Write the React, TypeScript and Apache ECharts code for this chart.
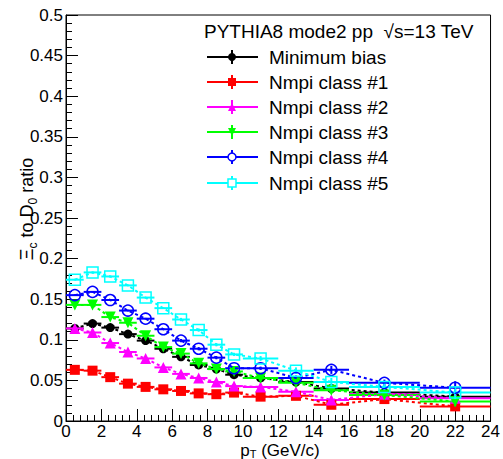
import React, { useEffect, useRef } from "react";
import * as echarts from "echarts";

// bin centres and edges (pT, GeV/c)
const xCenters = [0.5, 1.5, 2.5, 3.5, 4.5, 5.5, 6.5, 7.5, 8.5, 9.5, 11, 13, 15, 18, 22];
const xLow = [0, 1, 2, 3, 4, 5, 6, 7, 8, 9, 10, 12, 14, 16, 20];
const xHigh = [1, 2, 3, 4, 5, 6, 7, 8, 9, 10, 12, 14, 16, 20, 24];

const minBias = [0.114, 0.12, 0.115, 0.107, 0.099, 0.089, 0.079, 0.069, 0.064, 0.057, 0.053, 0.048, 0.04, 0.035, 0.03];
const class1 = [0.063, 0.062, 0.054, 0.046, 0.042, 0.039, 0.037, 0.034, 0.033, 0.035, 0.03, 0.031, 0.02, 0.027, 0.018];
const class2 = [0.114, 0.109, 0.096, 0.085, 0.077, 0.066, 0.058, 0.053, 0.048, 0.043, 0.042, 0.036, 0.026, 0.033, 0.028];
const class3 = [0.143, 0.143, 0.128, 0.121, 0.105, 0.091, 0.083, 0.071, 0.064, 0.061, 0.053, 0.047, 0.038, 0.032, 0.024];
const class4 = [0.155, 0.159, 0.149, 0.136, 0.126, 0.113, 0.099, 0.089, 0.078, 0.065, 0.065, 0.053, 0.063, 0.047, 0.041];
const class5 = [0.174, 0.183, 0.178, 0.167, 0.152, 0.139, 0.125, 0.112, 0.094, 0.082, 0.077, 0.062, 0.048, 0.042, 0.035];

// vertical (statistical) half-errors
const errMinBias = [0.001, 0.001, 0.001, 0.001, 0.001, 0.001, 0.001, 0.001, 0.001, 0.001, 0.001, 0.002, 0.003, 0.002, 0.004];
const errClass1 = [0.001, 0.001, 0.001, 0.001, 0.001, 0.001, 0.001, 0.001, 0.002, 0.002, 0.002, 0.003, 0.003, 0.003, 0.004];
const errClass2 = [0.001, 0.001, 0.001, 0.001, 0.001, 0.001, 0.001, 0.001, 0.002, 0.002, 0.002, 0.003, 0.004, 0.003, 0.005];
const errClass3 = [0.001, 0.001, 0.001, 0.001, 0.001, 0.001, 0.001, 0.001, 0.002, 0.002, 0.002, 0.003, 0.004, 0.003, 0.006];
const errClass4 = [0.001, 0.001, 0.001, 0.001, 0.001, 0.001, 0.002, 0.002, 0.002, 0.002, 0.002, 0.003, 0.005, 0.004, 0.008];
const errClass5 = [0.001, 0.001, 0.001, 0.001, 0.001, 0.001, 0.002, 0.002, 0.002, 0.002, 0.003, 0.004, 0.005, 0.004, 0.008];

const legendTitle = "PYTHIA8 mode2 pp  √s=13 TeV";
const seriesNames = ["Minimum bias", "Nmpi class #1", "Nmpi class #2", "Nmpi class #3", "Nmpi class #4", "Nmpi class #5"];
const seriesValues = [minBias, class1, class2, class3, class4, class5];
const seriesErrors = [errMinBias, errClass1, errClass2, errClass3, errClass4, errClass5];
const seriesColors = ["#000000", "#ff0000", "#ff00ff", "#00ff00", "#0000ff", "#00ffff"];

// axis titles as [text, isSubscript] pieces
const yTitleParts: [string, boolean][] = [["Ξ", false], ["c", true], [" to D", false], ["0", true], [" ratio", false]];
const xTitleParts: [string, boolean][] = [["p", false], ["T", true], [" (GeV/c)", false]];

const FONT = "'Liberation Sans', Arial, Helvetica, sans-serif";

const TRI_DOWN = "path://M0,0 L10,0 L5,9 Z";
const TRI_UP = "path://M5,0 L10,9 L0,9 Z";
const symbolDefs = [
  { symbol: "circle", size: 9, hollow: false },
  { symbol: "rect", size: 10, hollow: false },
  { symbol: TRI_UP, size: 11, hollow: false },
  { symbol: TRI_DOWN, size: 11, hollow: false },
  { symbol: "circle", size: 11, hollow: true },
  { symbol: "rect", size: 11, hollow: true },
];

function legendMarker(i: number, cx: number, cy: number, color: string) {
  const s = 4;
  switch (i) {
    case 0:
      return { type: "circle", shape: { cx, cy, r: s }, style: { fill: color } };
    case 1:
      return { type: "rect", shape: { x: cx - s, y: cy - s, width: 2 * s, height: 2 * s }, style: { fill: color } };
    case 2:
      return { type: "polygon", shape: { points: [[cx, cy - s], [cx + s, cy + s], [cx - s, cy + s]] }, style: { fill: color } };
    case 3:
      return { type: "polygon", shape: { points: [[cx - s, cy - s], [cx + s, cy - s], [cx, cy + s]] }, style: { fill: color } };
    case 4:
      return { type: "circle", shape: { cx, cy, r: s }, style: { fill: "#fff", stroke: color, lineWidth: 1.5 } };
    default:
      return { type: "rect", shape: { x: cx - s, y: cy - s, width: 2 * s, height: 2 * s }, style: { fill: "#fff", stroke: color, lineWidth: 1.5 } };
  }
}

function buildTitle(parts: [string, boolean][], x: number, y: number, rotation: number, mainSize: number, subSize: number, subShift: number) {
  const canvas = document.createElement("canvas");
  const ctx = canvas.getContext("2d") as CanvasRenderingContext2D;
  const widths = parts.map(([t, sub]) => {
    ctx.font = `${sub ? subSize : mainSize}px ${FONT}`;
    return ctx.measureText(t).width;
  });
  const total = widths.reduce((a, b) => a + b, 0);
  let cur = -total / 2;
  const children: any[] = parts.map(([t, sub], k) => {
    const el = {
      type: "text",
      x: cur,
      y: sub ? subShift : 0,
      style: {
        text: t,
        font: `${sub ? subSize : mainSize}px ${FONT}`,
        fill: "#000",
        align: "left",
        verticalAlign: "middle",
      },
    };
    cur += widths[k];
    return el;
  });
  return { type: "group", x, y, rotation, children };
}

export default function App() {
  const ref = useRef<HTMLDivElement>(null);

  useEffect(() => {
    if (!ref.current) return;
    const chart = echarts.init(ref.current, undefined, { renderer: "svg" });

    const series: any[] = [];
    seriesValues.forEach((vals, si) => {
      const color = seriesColors[si];
      const errs = seriesErrors[si];
      series.push({
        type: "custom",
        name: seriesNames[si] + " err",
        silent: true,
        z: 2 + si,
        encode: { x: [0, 1], y: 2 },
        data: vals.map((v, k) => [xLow[k], xHigh[k], v, xCenters[k], errs[k]]),
        renderItem: (params: any, api: any) => {
          const y = api.value(2);
          const xc = api.value(3);
          const e = api.value(4);
          const p1 = api.coord([api.value(0), y]);
          const p2 = api.coord([api.value(1), y]);
          const pt = api.coord([xc, y + e]);
          const pb = api.coord([xc, y - e]);
          return {
            type: "group",
            children: [
              { type: "line", shape: { x1: p1[0], y1: p1[1], x2: p2[0], y2: p2[1] }, style: { stroke: color, lineWidth: 2 } },
              { type: "line", shape: { x1: pt[0], y1: pt[1], x2: pb[0], y2: pb[1] }, style: { stroke: color, lineWidth: 2 } },
            ],
          };
        },
      });
      const sd = symbolDefs[si];
      series.push({
        type: "line",
        name: seriesNames[si],
        z: 3 + si,
        data: vals.map((v, k) => [xCenters[k], v]),
        symbol: sd.symbol,
        symbolSize: sd.size,
        showAllSymbol: true,
        lineStyle: { color, width: 2, type: [3, 3] },
        itemStyle: sd.hollow
          ? { color: "rgba(255,255,255,0)", borderColor: color, borderWidth: 1.5 }
          : { color, borderWidth: 0 },
        emphasis: { disabled: true },
      });
    });

    const legendRowY = [57, 82, 107, 132, 157, 183];
    const graphics: any[] = [
      {
        type: "text",
        left: 204,
        top: 22,
        style: { text: legendTitle, font: `19px ${FONT}`, fill: "#000" },
      },
    ];
    seriesNames.forEach((name, i) => {
      const y = legendRowY[i];
      const c = seriesColors[i];
      graphics.push({ type: "line", shape: { x1: 207, y1: y, x2: 258, y2: y }, style: { stroke: c, lineWidth: 2 } });
      graphics.push({ type: "line", shape: { x1: 232, y1: y - 7, x2: 232, y2: y + 7 }, style: { stroke: c, lineWidth: 2 } });
      graphics.push(legendMarker(i, 232, y, c));
      graphics.push({
        type: "text",
        x: 269,
        y,
        style: { text: name, font: `19px ${FONT}`, fill: "#000", verticalAlign: "middle" },
      });
    });

    // axis titles (centre of main text line)
    graphics.push(buildTitle(yTitleParts, 27, 209, Math.PI / 2, 18, 12, 6));
    graphics.push(buildTitle(xTitleParts, 280, 450.5, 0, 17, 11, 3.5));

    chart.setOption({
      animation: false,
      backgroundColor: "#ffffff",
      grid: { left: 66, right: 7, top: 15, bottom: 38, show: true, borderColor: "#000", borderWidth: 1, backgroundColor: "transparent" },
      xAxis: {
        type: "value",
        min: 0,
        max: 24,
        interval: 2,
        axisLine: { show: true, lineStyle: { color: "#000", width: 1 } },
        axisTick: { show: true, inside: true, length: 12, lineStyle: { color: "#000" } },
        minorTick: { show: true, splitNumber: 5, length: 6, lineStyle: { color: "#000" } },
        splitLine: { show: false },
        axisLabel: { color: "#000", fontSize: 17, fontFamily: FONT, margin: 2, lineHeight: 16 },
      },
      yAxis: {
        type: "value",
        min: 0,
        max: 0.5,
        interval: 0.05,
        axisLine: { show: true, lineStyle: { color: "#000", width: 1 } },
        axisTick: { show: true, inside: true, length: 12, lineStyle: { color: "#000" } },
        minorTick: { show: true, splitNumber: 5, length: 6, lineStyle: { color: "#000" } },
        splitLine: { show: false },
        axisLabel: { color: "#000", fontSize: 17, fontFamily: FONT, margin: 3 },
      },
      graphic: graphics,
      series,
    });

    return () => chart.dispose();
  }, []);

  return (
    <div
      ref={ref}
      style={{ position: "fixed", left: 0, top: 0, width: 503, height: 459, background: "#fff" }}
    />
  );
}
